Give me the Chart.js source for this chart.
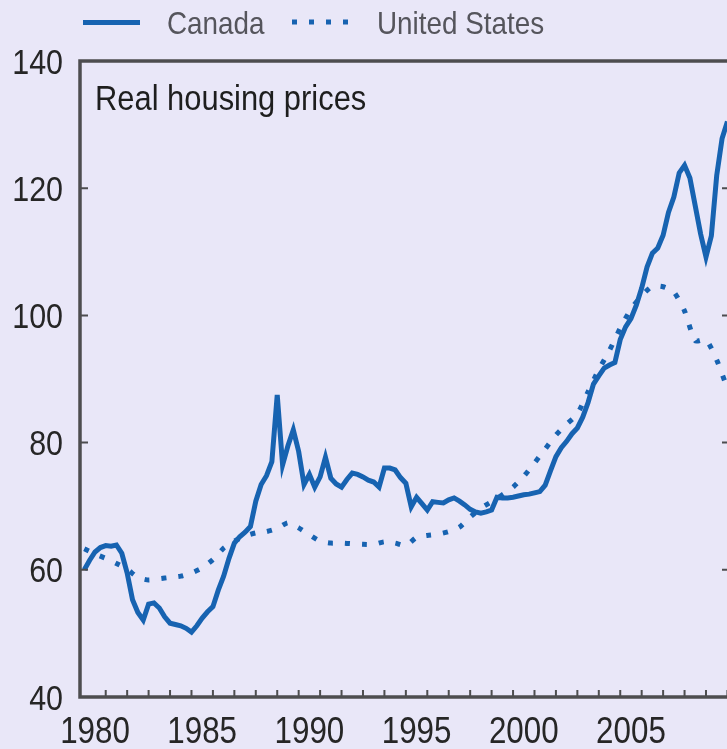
<!DOCTYPE html>
<html>
<head>
<meta charset="utf-8">
<script src="https://cdn.jsdelivr.net/npm/chart.js@4.4.1/dist/chart.umd.min.js"></script>
<style>
  html, body { margin: 0; padding: 0; background: #e9e7f8; overflow: hidden; }
  canvas { display: block; }
</style>
</head>
<body>
<canvas id="c" width="740" height="749"></canvas>
<script>
// quarterly index, first value = 1980 Q1
const canadaStart = 1980;
const canada = [
  60.0, 61.5, 62.8, 63.5,
  63.8, 63.7, 63.9, 62.6,
  59.5, 55.3, 53.3, 52.1,
  54.6, 54.8, 54.0, 52.6,
  51.6, 51.4, 51.2, 50.8,
  50.2, 51.2, 52.4, 53.4,
  54.2, 56.8, 59.0, 61.8,
  64.2, 65.2, 65.9, 66.8,
  70.8, 73.4, 74.8, 77.0,
  87.5, 76.5, 79.5, 82.0,
  78.6, 73.4, 75.0, 73.0,
  74.6, 77.7, 74.4, 73.5,
  73.0, 74.2, 75.2, 75.0,
  74.6, 74.1, 73.8, 73.0,
  76.0, 76.0, 75.7, 74.5,
  73.6, 69.9, 71.4, 70.4,
  69.4, 70.7, 70.6, 70.5,
  71.0, 71.3, 70.8, 70.2,
  69.5, 69.1, 68.9, 69.1,
  69.4, 71.4, 71.3, 71.3,
  71.4, 71.6, 71.8, 71.9,
  72.1, 72.3, 73.3, 75.6,
  77.8, 79.2, 80.2, 81.4,
  82.3, 84.0, 86.3, 89.2,
  90.5, 91.7, 92.2, 92.6,
  96.2, 98.2, 99.5, 101.6,
  104.3, 107.6, 109.8, 110.6,
  112.6, 116.2, 118.6, 122.4,
  123.6, 121.6, 117.2, 112.8,
  109.2, 112.5, 122.0, 127.8,
  130.5
];

// half-yearly, first value = 1980 H1
const usStart = 1980;
const unitedStates = [
  63.3, 62.5, 61.8, 61.0, 60.1, 58.8, 58.4, 58.6, 58.8, 59.0,
  59.5, 60.3, 61.6, 63.4, 64.5, 65.3, 65.8, 66.0, 66.5, 67.4,
  66.6, 65.5, 64.5, 64.2, 64.2, 64.1, 64.0, 64.0, 64.4, 64.2,
  63.8, 65.1, 65.4, 65.6, 66.0, 66.7, 68.3, 69.7, 70.7, 71.8,
  73.0, 74.7, 76.8, 79.0, 81.2, 82.9, 84.5, 88.0, 91.5, 94.5,
  98.0, 101.0, 103.1, 104.6, 104.5, 103.7, 100.7, 96.0, 96.2, 93.0,
  88.5
];

const seriesNames = ['Canada', 'United States'];
const panelTitle = 'Real housing prices';
const yTicks = [40, 60, 80, 100, 120, 140];
const xLabels = [1980, 1985, 1990, 1995, 2000, 2005];

const BLUE = '#1763b1';
const AXIS = '#4d4d4f';
const FONT = '"Liberation Sans", Arial, sans-serif';
const SQUEEZE = 0.87; // the original lettering is narrow

const canadaPts = canada.map((v, i) => ({ x: canadaStart + i / 4, y: v }));
const usPts = unitedStates.map((v, i) => ({ x: usStart + i / 2, y: v }));

function narrowText(ctx, text, x, y, size, align, color) {
  ctx.save();
  ctx.translate(x, y);
  ctx.scale(SQUEEZE, 1);
  ctx.font = size + 'px ' + FONT;
  ctx.textAlign = align;
  ctx.textBaseline = 'alphabetic';
  ctx.fillStyle = color;
  ctx.fillText(text, 0, 0);
  ctx.restore();
}

const framePlugin = {
  id: 'frame',
  afterDatasetsDraw(chart) {
    const { ctx, chartArea: a, scales } = chart;
    const x = scales.x, y = scales.y;
    ctx.save();
    ctx.strokeStyle = AXIS;
    ctx.lineWidth = 3.5;
    ctx.strokeRect(a.left, a.top, a.right - a.left, a.bottom - a.top);

    // yearly tick marks, pointing into the plot
    ctx.lineWidth = 2;
    ctx.beginPath();
    for (let yr = 1981; yr <= 2010; yr++) {
      const px = x.getPixelForValue(yr);
      ctx.moveTo(px, a.bottom);
      ctx.lineTo(px, a.bottom - 7);
    }
    yTicks.slice(1, -1).forEach(v => {
      const py = y.getPixelForValue(v);
      ctx.moveTo(a.left, py); ctx.lineTo(a.left + 8, py);
      ctx.moveTo(a.right, py); ctx.lineTo(a.right - 8, py);
    });
    ctx.stroke();
    ctx.restore();

    // tick labels, placed with the chart's own scales
    y.ticks.forEach(t => {
      narrowText(ctx, String(t.value), a.left - 17, y.getPixelForValue(t.value) + 12.5, 35, 'right', '#262626');
    });
    x.ticks.forEach(t => {
      narrowText(ctx, String(Math.floor(t.value)), x.getPixelForValue(t.value), 743, 36, 'center', '#262626');
    });
  },
  afterDraw(chart) {
    const ctx = chart.ctx;
    const ds = chart.data.datasets;
    ctx.save();
    // legend
    ctx.strokeStyle = ds[0].borderColor;
    ctx.lineWidth = 5;
    ctx.beginPath(); ctx.moveTo(83, 22.5); ctx.lineTo(140, 22.5); ctx.stroke();
    ctx.setLineDash(ds[1].borderDash);
    ctx.beginPath(); ctx.moveTo(292, 22); ctx.lineTo(352, 22); ctx.stroke();
    ctx.restore();
    narrowText(ctx, seriesNames[0], 167, 34, 32, 'left', '#55555c');
    narrowText(ctx, seriesNames[1], 377, 34, 32, 'left', '#55555c');
    // panel title
    narrowText(ctx, panelTitle, 95, 110, 35.5, 'left', '#1e1e1e');
  }
};

new Chart(document.getElementById('c'), {
  type: 'line',
  data: {
    datasets: [
      {
        label: seriesNames[0],
        data: canadaPts,
        borderColor: BLUE,
        borderWidth: 5,
        pointRadius: 0,
        tension: 0,
        fill: false
      },
      {
        label: seriesNames[1],
        data: usPts,
        borderColor: BLUE,
        borderWidth: 5,
        borderDash: [5, 12],
        pointRadius: 0,
        tension: 0.2,
        fill: false
      }
    ]
  },
  options: {
    responsive: false,
    animation: false,
    layout: { padding: { top: 61, right: 10, left: 0, bottom: 0 } },
    plugins: { legend: { display: false }, tooltip: { enabled: false } },
    scales: {
      x: {
        type: 'linear',
        min: 1979.8,
        max: 2010.12,
        border: { display: false },
        grid: { display: false, drawTicks: false },
        afterBuildTicks: s => { s.ticks = xLabels.map(v => ({ value: v + 0.5 })); },
        afterFit: s => { s.height = 52; },
        ticks: { display: false }
      },
      y: {
        min: 40,
        max: 140,
        border: { display: false },
        grid: { display: false, drawTicks: false },
        afterBuildTicks: s => { s.ticks = yTicks.map(v => ({ value: v })); },
        afterFit: s => { s.width = 80; },
        ticks: { display: false }
      }
    }
  },
  plugins: [framePlugin]
});
</script>
</body>
</html>
